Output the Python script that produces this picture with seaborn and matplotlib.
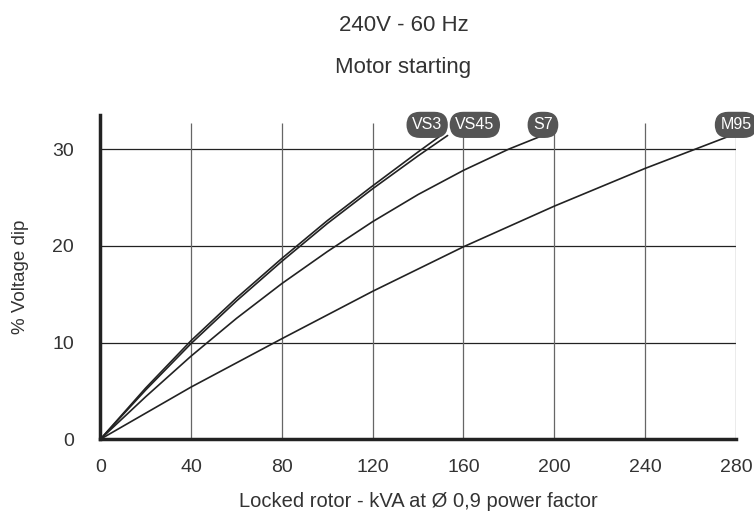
import pandas as pd
import seaborn as sns
import matplotlib.pyplot as plt

vs3_x = [0, 20, 40, 60, 80, 100, 120, 140, 150]
vs3_y = [0, 5.3, 10.2, 14.6, 18.7, 22.6, 26.2, 29.7, 31.4]
vs45_x = [0, 20, 40, 60, 80, 100, 120, 140, 153]
vs45_y = [0, 5.1, 9.9, 14.3, 18.4, 22.3, 25.9, 29.3, 31.4]
s7_x = [0, 20, 40, 60, 80, 100, 120, 140, 160, 180, 197]
s7_y = [0, 4.4, 8.6, 12.5, 16.1, 19.4, 22.5, 25.3, 27.8, 30.0, 31.6]
m95_x = [0, 40, 80, 120, 160, 200, 240, 280]
m95_y = [0, 5.4, 10.4, 15.3, 19.9, 24.1, 28.0, 31.6]

series_names = ["VS3", "VS45", "S7", "M95"]
label_x = [144, 165, 195, 280]
label_y = 32.5

x_ticks = [0, 40, 80, 120, 160, 200, 240, 280]
y_ticks = [0, 10, 20, 30]

sns.set_style("white")
plt.rcParams["font.family"] = ["Liberation Sans", "DejaVu Sans"]
TXT = "#333333"

df = pd.concat([
    pd.DataFrame({"kva": vs3_x, "dip": vs3_y, "model": "VS3"}),
    pd.DataFrame({"kva": vs45_x, "dip": vs45_y, "model": "VS45"}),
    pd.DataFrame({"kva": s7_x, "dip": s7_y, "model": "S7"}),
    pd.DataFrame({"kva": m95_x, "dip": m95_y, "model": "M95"}),
])

fig = plt.figure(figsize=(7.54, 5.12), dpi=100)
ax = fig.add_axes([0.133, 0.142, 0.843, 0.633])

# grid
ax.hlines(y_ticks[1:], 0, 280, color="#222222", lw=0.9, zorder=1)
ax.vlines(x_ticks[1:], 0, 32.7, color="#666666", lw=0.9, zorder=1)

sns.lineplot(data=df, x="kva", y="dip", hue="model", sort=False,
             palette=["#222222"] * 4, linewidth=1.2, legend=False, ax=ax, zorder=3)

# pill labels
for name, lx in zip(series_names, label_x):
    ax.text(lx, label_y, name, ha="center", va="center", fontsize=11.5, color="white",
            bbox=dict(boxstyle="round,pad=0.35,rounding_size=0.85", fc="#555555", ec="none"),
            zorder=5, clip_on=False)

ax.set_xlim(0, 280)
ax.set_ylim(0, 33.5)
ax.set_xticks(x_ticks)
ax.set_yticks(y_ticks)
ax.tick_params(axis="both", direction="out", length=9, width=0.9, color="#444444",
               labelsize=14, labelcolor=TXT, pad=10)
ax.tick_params(axis="x", length=10, pad=4)

for side in ["top", "right"]:
    ax.spines[side].set_visible(False)
for side in ["left", "bottom"]:
    ax.spines[side].set_linewidth(2.5)
    ax.spines[side].set_color("#222222")

ax.set_xlabel("Locked rotor - kVA at Ø 0,9 power factor", fontsize=14.5, color=TXT, labelpad=12)
ax.set_ylabel("% Voltage dip", fontsize=13.5, color=TXT, labelpad=17)

fig.text(0.535, 0.950, "240V - 60 Hz", ha="center", va="center", fontsize=16, color=TXT)
fig.text(0.535, 0.868, "Motor starting", ha="center", va="center", fontsize=16, color=TXT)

fig.savefig("out.png", dpi=100)
